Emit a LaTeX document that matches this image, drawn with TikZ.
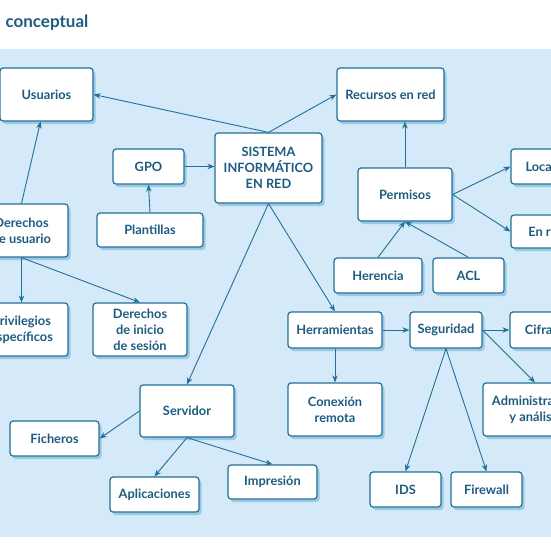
\documentclass[tikz,border=0pt]{standalone}
\usepackage{fontspec}
\setmainfont{Lato}
\usepackage{tikz}
\usetikzlibrary{arrows.meta,positioning,shadows}
\definecolor{panelblue}{HTML}{D4EAF8}
\definecolor{edgeblue}{HTML}{22709A}
\definecolor{inkblue}{HTML}{1D5B80}
\definecolor{shadeblue}{HTML}{8EC0DE}

\begin{document}
\begin{tikzpicture}[x=1pt,y=-1pt,
  box/.style={draw=edgeblue,line width=1.2pt,fill=white,rounded corners=3pt,align=center,text=inkblue,font=\bfseries\fontsize{12.8}{16}\selectfont,inner sep=2pt,drop shadow={shadow xshift=2.5pt,shadow yshift=-3pt,fill=shadeblue,opacity=.8}},
  link/.style={draw=edgeblue,line width=0.9pt,-{Stealth[length=7pt,width=5.5pt]}}]
\useasboundingbox (0,0) rectangle (550,550);
\fill[panelblue] (-10,49) rectangle (560,537);
\node[anchor=base west,text=inkblue,font=\bfseries\fontsize{17}{20}\selectfont] (title) at (2,27) {conceptual};
\node[box,minimum width=93pt,minimum height=53pt] (usu) at (46.5,94.5) {Usuarios};
\node[box,minimum width=107pt,minimum height=53pt] (rec) at (390.5,94.5) {Recursos en red};
\node[box,minimum width=107pt,minimum height=70pt] (sis) at (268.5,168) {SISTEMA\\INFORMÁTICO\\EN RED};
\node[box,minimum width=71pt,minimum height=35pt] (gpo) at (148.5,166.5) {GPO};
\node[box,minimum width=106pt,minimum height=34pt] (pla) at (150,230) {Plantillas};
\node[box,minimum width=93pt,minimum height=53pt] (du) at (21.5,230.5) {Derechos\\de usuario};
\node[box,minimum width=94pt,minimum height=53pt] (perm) at (405,194.5) {Permisos};
\node[box,minimum width=71pt,minimum height=35pt] (loc) at (546.5,166.5) {Locales};
\node[box,minimum width=71pt,minimum height=33pt] (enr) at (546.5,231.5) {En red};
\node[box,minimum width=88pt,minimum height=35pt] (her) at (378,275.5) {Herencia};
\node[box,minimum width=71pt,minimum height=35pt] (acl) at (468.5,275.5) {ACL};
\node[box,minimum width=93pt,minimum height=53pt] (pri) at (21.5,329.5) {Privilegios\\específicos};
\node[box,minimum width=94pt,minimum height=53pt] (dis) at (140,329.5) {Derechos\\de inicio\\de sesión};
\node[box,minimum width=94pt,minimum height=52pt] (serv) at (187,411) {Servidor};
\node[box,minimum width=94pt,minimum height=36pt] (herr) at (335,330) {Herramientas};
\node[box,minimum width=72pt,minimum height=36pt] (seg) at (446,330) {Seguridad};
\node[box,minimum width=72pt,minimum height=36pt] (cif) at (546,330) {Cifrado};
\node[box,minimum width=94pt,minimum height=53pt] (con) at (335,409.5) {Conexión\\remota};
\node[box,minimum width=104pt,minimum height=53pt] (adm) at (535,409.5) {Administración\\y análisis};
\node[box,minimum width=89pt,minimum height=35pt] (fic) at (54.5,438.5) {Ficheros};
\node[box,minimum width=89pt,minimum height=35pt] (apl) at (154.5,494.5) {Aplicaciones};
\node[box,minimum width=89pt,minimum height=34pt] (imp) at (272.5,482) {Impresión};
\node[box,minimum width=71pt,minimum height=35pt] (ids) at (405.5,489.5) {IDS};
\node[box,minimum width=71pt,minimum height=35pt] (fw) at (486.5,489.5) {Firewall};
\draw[link] (sis.north) -- (usu.east);
\draw[link] (sis.north) -- (rec.west);
\draw[link] (gpo.east) -- (gpo.east -| sis.west);
\draw[link] (pla.north) -- (gpo.south);
\draw[link] (du.north) -- ([xshift=-6pt]usu.south);
\draw[link] (du.south) -- (pri.north);
\draw[link] (du.south) -- (dis.north);
\draw[link] (sis.south) -- (serv.north);
\draw[link] (sis.south) -- (herr.north);
\draw[link] (perm.north) -- (perm.north |- rec.south);
\draw[link] (perm.east) -- (loc.west);
\draw[link] (perm.east) -- (enr.west);
\draw[link] (her.north) -- (perm.south);
\draw[link] (acl.north) -- (perm.south);
\draw[link] (herr.east) -- (seg.west);
\draw[link] (herr.south) -- (con.north);
\draw[link] (seg.east) -- (cif.west);
\draw[link] (seg.east) -- (adm.north);
\draw[link] (seg.south) -- (ids.north);
\draw[link] (seg.south) -- (fw.north);
\draw[link] (serv.west) -- (fic.east);
\draw[link] (serv.south) -- (apl.north);
\draw[link] (serv.south) -- (imp.north);
\end{tikzpicture}
\end{document}
